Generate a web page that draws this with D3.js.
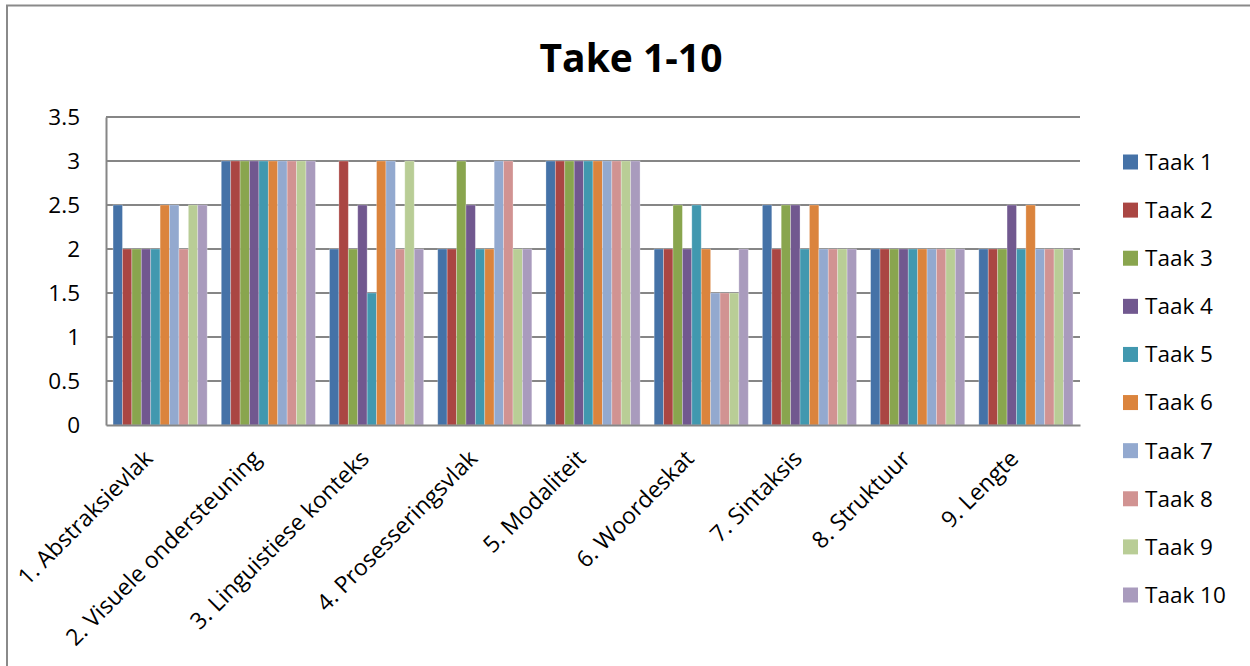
<!DOCTYPE html>
<html>
<head>
<meta charset="utf-8">
<script src="https://cdn.jsdelivr.net/npm/d3@7"></script>
<style>
  html, body { margin: 0; padding: 0; background: #fff; }
  svg { display: block; font-family: "Open Sans", sans-serif; }
</style>
</head>
<body>
<svg id="chart" width="1250" height="666"></svg>
<script>
// Scores per category (rows) for each task (columns)
const categories = [
  "1. Abstraksievlak", "2. Visuele ondersteuning", "3. Linguistiese konteks",
  "4. Prosesseringsvlak", "5. Modaliteit", "6. Woordeskat",
  "7. Sintaksis", "8. Struktuur", "9. Lengte"
];
const series = ["Taak 1", "Taak 2", "Taak 3", "Taak 4", "Taak 5",
                "Taak 6", "Taak 7", "Taak 8", "Taak 9", "Taak 10"];
const colors = ["#4572A7", "#AA4643", "#89A54E", "#71588F", "#4198AF",
                "#DB843D", "#93A9CF", "#D19392", "#B9CD96", "#A99BBD"];
const values = [
  [2.5, 2,   2,   2,   2,   2.5, 2.5, 2,   2.5, 2.5],
  [3,   3,   3,   3,   3,   3,   3,   3,   3,   3  ],
  [2,   3,   2,   2.5, 1.5, 3,   3,   2,   3,   2  ],
  [2,   2,   3,   2.5, 2,   2,   3,   3,   2,   2  ],
  [3,   3,   3,   3,   3,   3,   3,   3,   3,   3  ],
  [2,   2,   2.5, 2,   2.5, 2,   1.5, 1.5, 1.5, 2  ],
  [2.5, 2,   2.5, 2.5, 2,   2.5, 2,   2,   2,   2  ],
  [2,   2,   2,   2,   2,   2,   2,   2,   2,   2  ],
  [2,   2,   2,   2.5, 2,   2.5, 2,   2,   2,   2  ]
];
const yTicks = [0, 0.5, 1, 1.5, 2, 2.5, 3, 3.5];
const title = "Take 1-10";

const svg = d3.select("#chart");
const plot = { left: 106, right: 1080, top: 117, bottom: 425 };
const gridColor = "#868686";

// Outer chart frame (left and top edges visible)
svg.append("path")
  .attr("d", "M7,666 L7,5.5 L1250,5.5")
  .attr("fill", "none").attr("stroke", "#8a8a8a").attr("stroke-width", 2);

// Title
svg.append("text")
  .attr("x", 631).attr("y", 72)
  .attr("text-anchor", "middle")
  .attr("font-size", 39).attr("font-weight", 700)
  .attr("fill", "#000")
  .text(title);

const x0 = d3.scaleBand().domain(categories).range([plot.left, plot.right]).padding(0);
const bw = x0.bandwidth();
const gap = bw * 1.5 / 11.5;
const x1 = d3.scaleBand().domain(series).range([gap / 2, bw - gap / 2]).padding(0);
const y = d3.scaleLinear().domain([0, 3.5]).range([plot.bottom, plot.top]);

// Horizontal gridlines
svg.append("g").selectAll("line").data(yTicks.filter(t => t > 0)).join("line")
  .attr("x1", plot.left).attr("x2", plot.right)
  .attr("y1", d => y(d)).attr("y2", d => y(d))
  .attr("stroke", gridColor).attr("stroke-width", 2);

// Bars
const groups = svg.append("g").selectAll("g").data(categories).join("g")
  .attr("transform", d => `translate(${x0(d)},0)`);
groups.selectAll("rect")
  .data((c, i) => series.map((s, j) => ({ s, j, v: values[i][j] })))
  .join("rect")
  .attr("x", d => x1(d.s))
  .attr("width", x1.bandwidth())
  .attr("y", d => y(d.v))
  .attr("height", d => y(0) - y(d.v))
  .attr("fill", d => colors[d.j])
  .attr("stroke", "rgba(255,255,255,0.35)")
  .attr("stroke-width", 0.8);

// Y axis
const yAxis = d3.axisLeft(y).tickValues(yTicks).tickSize(0).tickPadding(26)
  .tickFormat(d => String(d));
const yg = svg.append("g").attr("transform", `translate(${plot.left},0)`).call(yAxis);
yg.select(".domain").attr("stroke", gridColor).attr("stroke-width", 2);
yg.selectAll("text").attr("font-size", 22.5).attr("fill", "#000")
  .attr("font-family", "Open Sans, sans-serif");

// X axis baseline and rotated category labels
const xAxis = d3.axisBottom(x0).tickSize(0).tickFormat(d => d);
const xg = svg.append("g").attr("transform", `translate(0,${plot.bottom})`).call(xAxis);
xg.select(".domain").attr("stroke", gridColor).attr("stroke-width", 2);
xg.selectAll(".tick text")
  .attr("font-size", 23).attr("fill", "#000")
  .attr("font-family", "Open Sans, sans-serif")
  .attr("text-anchor", "end")
  .attr("dy", null).attr("y", null)
  .attr("transform", "translate(-6,35) rotate(-45)");

// Legend
const legend = svg.append("g");
const ly = d3.scalePoint().domain(series).range([162, 595]);
const items = legend.selectAll("g").data(series).join("g")
  .attr("transform", d => `translate(1123,${ly(d)})`);
items.append("rect")
  .attr("x", 0).attr("y", -7.5).attr("width", 15).attr("height", 15)
  .attr("fill", (d, i) => colors[i]);
items.append("text")
  .attr("x", 22).attr("y", 0).attr("dy", "0.35em")
  .attr("font-size", 22.5).attr("fill", "#000")
  .text(d => d);
</script>
</body>
</html>
